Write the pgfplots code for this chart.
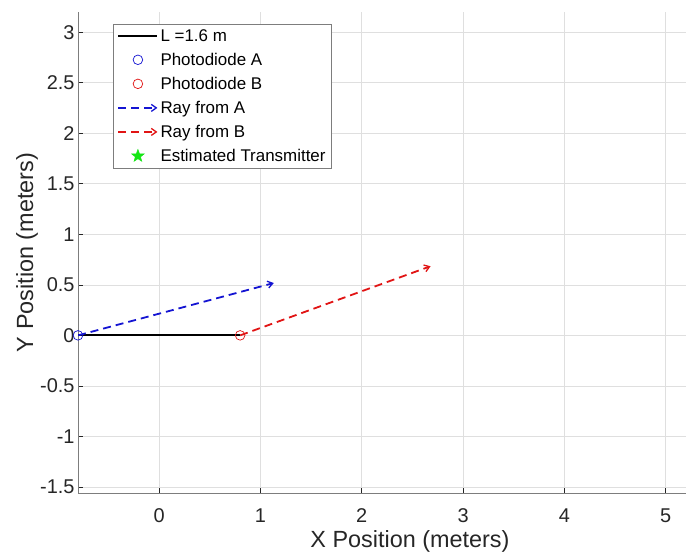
\documentclass[border=0pt]{standalone}
\usepackage{pgfplots}
\pgfplotsset{compat=1.18}
\usepackage{fontspec}
\setmainfont{Liberation Sans}
\usetikzlibrary{arrows.meta}
\definecolor{axgray}{RGB}{38,38,38}
\definecolor{gridc}{RGB}{223,223,223}
\definecolor{rayA}{RGB}{20,20,210}
\definecolor{rayB}{RGB}{225,20,20}
\definecolor{estg}{RGB}{20,230,20}
\tikzset{
  rayhead/.style={-{Straight Barb[length=5bp,width=7bp,line width=1.3bp]}},
  raystyle/.style={line width=1.8bp, dash pattern=on 8bp off 5bp, rayhead},
}
% filled five-point star
\pgfdeclareplotmark{fstar}{%
  \pgfpathmoveto{\pgfpointpolar{90}{\pgfplotmarksize}}%
  \pgfpathlineto{\pgfpointpolar{126}{0.42\pgfplotmarksize}}%
  \pgfpathlineto{\pgfpointpolar{162}{\pgfplotmarksize}}%
  \pgfpathlineto{\pgfpointpolar{198}{0.42\pgfplotmarksize}}%
  \pgfpathlineto{\pgfpointpolar{234}{\pgfplotmarksize}}%
  \pgfpathlineto{\pgfpointpolar{270}{0.42\pgfplotmarksize}}%
  \pgfpathlineto{\pgfpointpolar{306}{\pgfplotmarksize}}%
  \pgfpathlineto{\pgfpointpolar{342}{0.42\pgfplotmarksize}}%
  \pgfpathlineto{\pgfpointpolar{18}{\pgfplotmarksize}}%
  \pgfpathlineto{\pgfpointpolar{54}{0.42\pgfplotmarksize}}%
  \pgfpathclose\pgfusepathqfillstroke}
\pgfplotsset{
  legend image code/.code={\draw[mark repeat=2,mark phase=2,#1]
    plot coordinates {(0bp,0bp) (19.5bp,0bp) (39bp,0bp)};},
  raylegend/.style={legend image code/.code={\draw[##1] (0bp,0bp) -- (39bp,0bp);}},
}

\begin{document}
\begin{tikzpicture}
\begin{axis}[
  scale only axis, width=608bp, height=481bp,
  xmin=-0.8, xmax=5.2, ymin=-1.56, ymax=3.2,
  axis x line*=bottom, axis y line*=left,
  axis line style={draw=axgray!60, line width=0.8bp},
  xtick={0,1,2,3,4,5},
  ytick={-1.5,-1,-0.5,0,0.5,1,1.5,2,2.5,3},
  tick align=inside, major tick length=5bp,
  tick style={axgray, line width=0.6bp},
  grid=major, grid style={gridc, line width=0.6bp},
  /pgf/number format/assume math mode=true,
  tick label style={font=\fontsize{20}{22}\selectfont, text=axgray},
  xticklabel style={yshift=-12bp},
  label style={font=\fontsize{23.5}{26}\selectfont, text=axgray},
  xlabel={X Position (meters)}, ylabel={Y Position (meters)},
  xlabel style={at={(axis description cs:0.546,0)}, anchor=north, yshift=-34bp},
  ylabel style={at={(axis description cs:0,0.5)}, anchor=center, yshift=51bp},
  legend cell align=left,
  legend style={at={(axis description cs:0.0576,0.975)}, anchor=north west,
    draw=axgray!60, fill=white, line width=0.6bp,
    font=\fontsize{17}{19}\selectfont, row sep=6.3bp,
    inner xsep=4bp, inner ysep=3bp},
]
\addplot[black, line width=2.2bp] coordinates {(-0.8,0) (0.8,0)};
\addlegendentry{L =1.6 m}
\addplot[only marks, mark=o, mark size=4.8bp, rayA, line width=0.7bp] coordinates {(-0.8,0)};
\addlegendentry{Photodiode A}
\addplot[only marks, mark=o, mark size=4.8bp, rayB, line width=0.7bp] coordinates {(0.8,0)};
\addlegendentry{Photodiode B}
\addplot[rayA, raystyle, raylegend] coordinates {(-0.8,0) (1.132,0.518)};
\addlegendentry{Ray from A}
\addplot[rayB, raystyle, raylegend] coordinates {(0.8,0) (2.679,0.684)};
\addlegendentry{Ray from B}
\addplot[only marks, mark=fstar, mark size=6.5bp, estg, fill=estg, line width=0.5bp] coordinates {(5.25,1.69)};
\addlegendentry{Estimated Transmitter}
\coordinate (sw) at (rel axis cs:0,0);
\coordinate (ne) at (rel axis cs:1,1);
\end{axis}
\pgfresetboundingbox
\path[use as bounding box] ([xshift=-78bp,yshift=-61bp]sw) rectangle ([yshift=12bp]ne);
\end{tikzpicture}
\end{document}
